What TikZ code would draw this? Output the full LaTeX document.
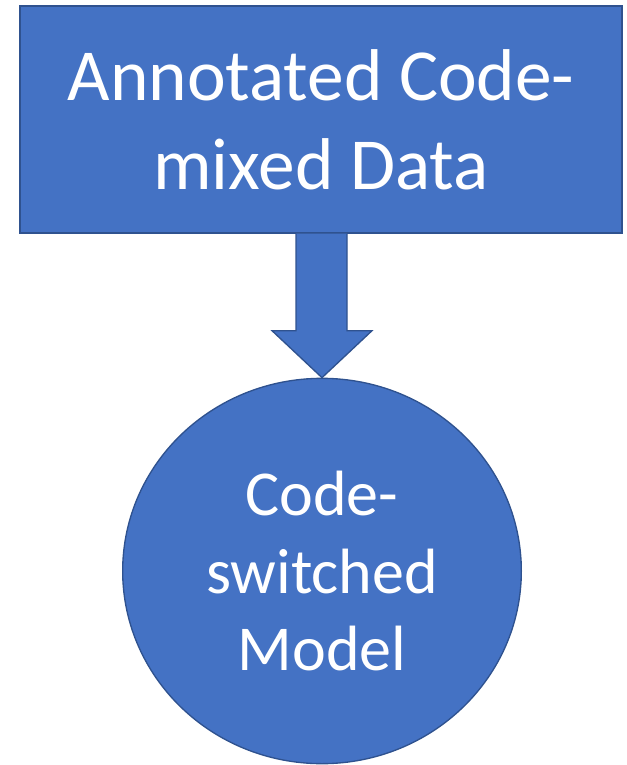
\documentclass[tikz,border=0pt]{standalone}
\usepackage{fontspec}
\setmainfont{Carlito}
\usepackage{xcolor}
\usetikzlibrary{calc,shapes.geometric}
\definecolor{boxblue}{HTML}{4472C4}
\definecolor{edgeblue}{HTML}{2F528F}

\begin{document}
\begin{tikzpicture}[x=0.75pt,y=-0.75pt]
  \useasboundingbox (0,0) rectangle (626,765);
  \tikzstyle{block}=[fill=boxblue,draw=edgeblue,line width=1pt,text=white,align=center]
    \tikzstyle{data}=[block,rectangle,minimum width=451.5pt,minimum height=170.25pt,font=\fontsize{55}{67}\selectfont]
    \tikzstyle{model}=[block,ellipse,inner sep=0pt,minimum width=299pt,minimum height=289pt,font=\fontsize{48}{58}\selectfont]
    \node[data] (data) at (321,119.5) {Annotated Code-\\mixed Data};
    \node[model] (model) at (322,571) {Code-\\switched\\Model};
    \draw[block] ($(data.south)+(-25,0)$) -- ($(data.south)+(-25,97)$) -- ($(data.south)+(-49,97)$)
      -- (model.north) -- ($(data.south)+(51,97)$) -- ($(data.south)+(26,97)$) -- ($(data.south)+(26,0)$);
\end{tikzpicture}
\end{document}
